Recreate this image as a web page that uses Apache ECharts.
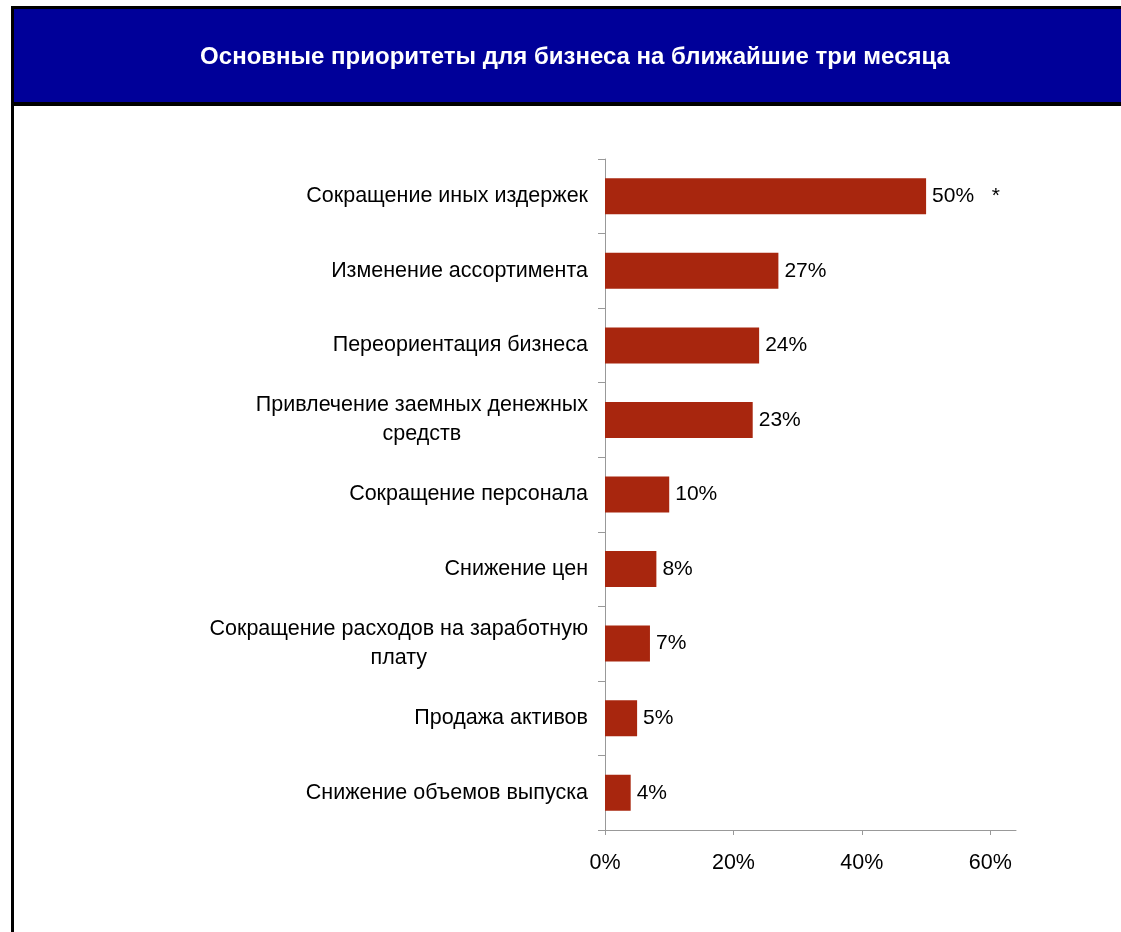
<!DOCTYPE html>
<html><head><meta charset="utf-8">
<script src="https://cdn.jsdelivr.net/npm/echarts@6/dist/echarts.min.js"></script>
<style>html,body{margin:0;padding:0;background:#fff}#c{width:1121px;height:932px}</style>
</head><body><div id="c"></div>
<script>
const titleText = 'Основные приоритеты для бизнеса на ближайшие три месяца';
const categories = [
  'Сокращение иных издержек',
  'Изменение ассортимента',
  'Переориентация бизнеса',
  'Привлечение заемных денежных\nсредств',
  'Сокращение персонала',
  'Снижение цен',
  'Сокращение расходов на заработную\nплату',
  'Продажа активов',
  'Снижение объемов выпуска'
];
const values = [50, 27, 24, 23, 10, 8, 7, 5, 4];
const notes = ['*', '', '', '', '', '', '', '', ''];
const xTicks = [0, 20, 40, 60];

const chart = echarts.init(document.getElementById('c'), null, {renderer: 'canvas'});
const font = '"Liberation Sans", Arial, sans-serif';
chart.setOption({
  animation: false,
  backgroundColor: '#fff',
  graphic: [
    {type: 'rect', shape: {x: 11, y: 6, width: 1110, height: 100}, style: {fill: '#000000'}, z: 1},
    {type: 'rect', shape: {x: 14, y: 9, width: 1107, height: 93}, style: {fill: '#000099'}, z: 2},
    {type: 'rect', shape: {x: 11, y: 106, width: 3, height: 826}, style: {fill: '#000000'}, z: 2},
    {type: 'text', x: 575, y: 57, z: 3, style: {text: titleText, fill: '#ffffff', font: 'bold 24px ' + font, align: 'center', verticalAlign: 'middle'}}
  ],
  grid: {left: 605, right: 105, top: 159, bottom: 102, containLabel: false},
  xAxis: {
    type: 'value', min: 0, max: 64, interval: 20,
    splitLine: {show: false},
    axisLine: {show: true, lineStyle: {color: '#999999', width: 1}},
    axisTick: {show: true, length: 5, lineStyle: {color: '#999999'}, customValues: xTicks},
    axisLabel: {customValues: xTicks, formatter: v => v + '%', color: '#000', fontSize: 21.5, fontFamily: font, margin: 22}
  },
  yAxis: {
    type: 'category', data: categories, inverse: true,
    axisLine: {show: true, lineStyle: {color: '#999999', width: 1}},
    axisTick: {show: true, length: 7, lineStyle: {color: '#999999'}},
    axisLabel: {
      color: '#000', fontSize: 21.5, fontFamily: font, margin: 17, align: 'right',
      formatter: v => v.split('\n').map(s => '{c|' + s + '}').join('\n'),
      rich: {c: {align: 'center', fontSize: 21.5, fontFamily: font, color: '#000', lineHeight: 29}}
    }
  },
  series: [{
    type: 'bar',
    data: values,
    barWidth: 36,
    itemStyle: {color: '#A8260E'},
    label: {
      show: true, position: 'right', distance: 6, color: '#000', fontSize: 21, fontFamily: font,
      formatter: p => p.value + '%' + (notes[p.dataIndex] ? '   ' + notes[p.dataIndex] : '')
    }
  }]
});
</script></body></html>
